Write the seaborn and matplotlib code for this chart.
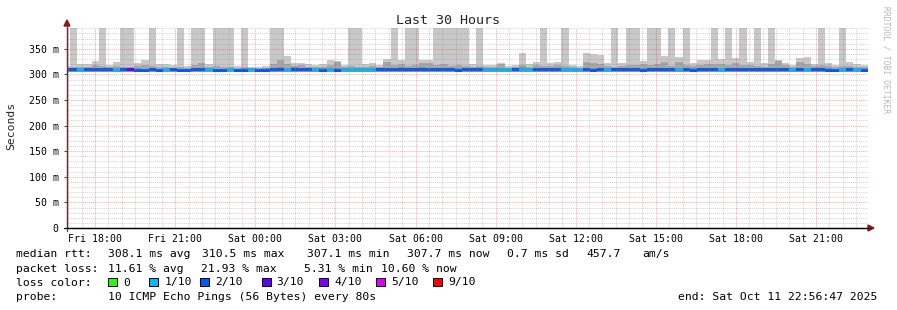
import numpy as np
import pandas as pd
import matplotlib
matplotlib.use("Agg")
import matplotlib.pyplot as plt
import matplotlib.dates as mdates
from matplotlib.patches import Rectangle
from matplotlib.ticker import FixedLocator
import seaborn as sns

sns.set_theme(style="white")
plt.rcParams["font.family"] = ["DejaVu Sans Mono", "DejaVu Sans"]

# ---------------- data ----------------
T = 420  # off-scale (clipped) maximum
smoke_top = [316, T, 320, 321, 327, T, 318, 324, T, T,
             322, 328, T, 320, 320, 318, T, 316, T, T,
             320, T, T, T, 316, T, 315, 315, 316, T,
             T, 336, 322, 322, 320, 318, 320, 328, 327, 318,
             T, T, 320, 322, 318, 330, T, 328, T, T,
             328, 328, T, T, T, T, T, 320, T, 318,
             318, 322, 316, 318, 342, 320, 325, T, 322, 324,
             T, 318, 316, 342, 339, 338, 322, T, 322, T,
             T, 326, T, T, 336, T, 334, T, 322, 328,
             328, T, 330, T, 332, T, 324, T, 322, T,
             328, 323, 318, 332, 333, 320, T, 322, 318, T,
             324, 320, 318, 316]
inner_top = [313, 314, 314, 315, 318, 316, 314, 316, 315, 315,
             316, 318, 316, 314, 314, 313, 314, 313, 318, 322,
             315, 316, 315, 315, 313, 314, 313, 313, 313, 320,
             328, 320, 316, 318, 315, 314, 315, 318, 325, 314,
             316, 315, 314, 316, 314, 325, 318, 321, 316, 318,
             322, 322, 318, 320, 316, 318, 316, 314, 316, 314,
             314, 320, 313, 314, 318, 314, 318, 316, 316, 318,
             316, 314, 313, 325, 322, 320, 316, 315, 316, 318,
             318, 320, 318, 320, 324, 316, 324, 318, 316, 318,
             320, 320, 320, 318, 322, 318, 318, 316, 314, 320,
             327, 318, 314, 324, 320, 316, 318, 316, 314, 316,
             316, 314, 314, 313]
median = [309, 309, 309, 309, 309, 309, 309, 308.5, 309, 309,
          308.5, 307.5, 309, 307.5, 309, 309, 307.5, 307.5, 309, 309,
          309, 307.5, 307.5, 309, 307.5, 308, 309, 307.5, 308, 309,
          309.5, 309, 310, 309, 309, 309, 308, 309, 308, 309,
          309, 309, 309, 309, 309, 309, 309, 309.5, 309, 309,
          309.5, 309, 309, 309, 309, 308, 309, 309, 309, 309,
          309, 309, 309, 309, 309.5, 309, 309, 309, 309, 309,
          309, 309, 309, 309, 308.5, 309, 309, 309, 309, 309,
          309, 308.5, 309, 309, 309, 309, 309, 309, 308.5, 309,
          309, 309, 309, 309, 309, 309, 309, 309, 309, 309,
          309, 309, 309, 309, 309, 309, 309, 308, 307.5, 309,
          309, 309, 308, 309]
loss = [2, 2, 1, 2, 2, 2, 2, 1, 2, 3,
        2, 2, 2, 2, 1, 2, 2, 2, 2, 2,
        1, 2, 2, 1, 2, 2, 1, 2, 2, 2,
        2, 1, 2, 2, 2, 1, 2, 1, 2, 1,
        1, 1, 1, 1, 2, 2, 2, 2, 2, 2,
        2, 2, 2, 2, 2, 2, 2, 2, 2, 1,
        1, 1, 1, 2, 1, 1, 2, 2, 2, 2,
        1, 1, 1, 2, 2, 2, 1, 2, 2, 2,
        2, 2, 2, 2, 2, 2, 1, 2, 2, 2,
        2, 2, 1, 2, 2, 2, 2, 2, 2, 2,
        2, 2, 1, 2, 1, 2, 2, 2, 2, 1,
        2, 1, 2, 2]
smoke_low = 305

loss_colors = {0: "#26ff00", 1: "#00b8ff", 2: "#0059ff", 3: "#5e00ff",
               4: "#7e00ff", 5: "#dd00ff", 9: "#ff0000"}
loss_labels = ["0", "1/10", "2/10", "3/10", "4/10", "5/10", "9/10"]
loss_keys = [0, 1, 2, 3, 4, 5, 9]

y_ticks = [0, 50, 100, 150, 200, 250, 300, 350]
y_tick_labels = ["0", "50 m", "100 m", "150 m", "200 m", "250 m", "300 m", "350 m"]

start = pd.Timestamp("2025-10-10 16:56:47")
end = pd.Timestamp("2025-10-11 22:56:47")
bin_start = pd.date_range("2025-10-10 16:48:00", periods=len(smoke_top), freq="16min")
step_days = 16 / 1440.0

# ---------------- figure ----------------
W, H = 897, 310
fig = plt.figure(figsize=(W / 100, H / 100), dpi=100, facecolor="white")
ax = fig.add_axes([67 / W, 82 / H, 801 / W, 200 / H])
ax.set_facecolor("white")

x = mdates.date2num(bin_start.to_pydatetime())
top = np.array(smoke_top, float)
inn = np.array(inner_top, float)
med = np.array(median, float)

ax.bar(x, top - smoke_low, bottom=smoke_low, width=step_days, align="edge",
       color="#c8c8c8", linewidth=0, zorder=1)
ax.bar(x, inn - smoke_low, bottom=smoke_low, width=step_days, align="edge",
       color="#a6a6a6", linewidth=0, zorder=1.1)
ax.bar(x, np.minimum(inn, med + 4) - smoke_low, bottom=smoke_low, width=step_days,
       align="edge", color="#8e8e8e", linewidth=0, zorder=1.2)
ax.bar(x, np.full_like(med, 6.0), bottom=med - 3, width=step_days, align="edge",
       color=[loss_colors[l] for l in loss], linewidth=0, zorder=1.5)

ax.set_xlim(mdates.date2num(start.to_pydatetime()), mdates.date2num(end.to_pydatetime()))
ax.set_ylim(0, 390.6)

# grids
for v in np.arange(10, 391, 10):
    if v % 50:
        ax.axhline(v, color="#808080", alpha=0.35, lw=0.7, ls=(0, (1, 1)), zorder=3)
for v in range(50, 391, 50):
    ax.axhline(v, color="#ff0000", alpha=0.35, lw=0.7, ls=(0, (1, 1)), zorder=3)
t = pd.Timestamp("2025-10-10 17:00:00")
while t < end:
    major = (t.hour % 3 == 0 and t.minute == 0)
    ax.axvline(mdates.date2num(t.to_pydatetime()), color="#ff0000" if major else "#808080",
               alpha=0.35, lw=0.7, ls=(0, (1, 1)), zorder=3)
    t += pd.Timedelta(minutes=30)

# ticks
ax.yaxis.set_major_locator(FixedLocator(y_ticks))
ax.set_yticklabels(y_tick_labels)
ax.tick_params(axis="y", length=2.5, width=0.7, color="#404040", pad=3.5,
               labelsize=7.1, labelcolor="#000000", left=True)
ax.xaxis.set_major_locator(mdates.HourLocator(byhour=range(0, 24, 3)))
ax.xaxis.set_major_formatter(mdates.DateFormatter("%a %H:%M"))
ax.tick_params(axis="x", length=0, pad=4.5, labelsize=7.1, labelcolor="#000000")

for s in ["top", "right"]:
    ax.spines[s].set_visible(False)
ax.spines["left"].set_color("#6a3030")
ax.spines["left"].set_linewidth(0.9)
ax.spines["bottom"].set_color("#000000")
ax.spines["bottom"].set_linewidth(0.9)
ax.spines["left"].set_zorder(4)
ax.spines["bottom"].set_zorder(4)

# axis extensions and arrows
fig.add_artist(plt.Line2D([67 / W, 67 / W], [1 - 231 / H, 1 - 24 / H], color="#6a3030", lw=0.9))
fig.add_artist(plt.Line2D([64 / W, 870 / W], [1 - 228 / H, 1 - 228 / H], color="#000000", lw=0.9))
fig.add_artist(plt.Polygon([[64 / W, 1 - 26 / H], [70 / W, 1 - 26 / H], [67 / W, 1 - 20 / H]],
                           closed=True, color="#8b1a1a", transform=fig.transFigure))
fig.add_artist(plt.Polygon([[868 / W, 1 - 225 / H], [868 / W, 1 - 231 / H], [874 / W, 1 - 228 / H]],
                           closed=True, color="#8b1a1a", transform=fig.transFigure))

# titles
fig.text(448 / W, 1 - 24 / H, "Last 30 Hours", ha="center", va="baseline", fontsize=9.6)
fig.text(11 / W, 1 - 126 / H, "Seconds", ha="center", va="center", rotation=90, fontsize=8.2)
fig.text(886 / W, 1 - 60 / H, "RRDTOOL / TOBI OETIKER", ha="center", va="center",
         rotation=270, fontsize=5.8, color="#b8b8b8")

fs = 8.2
def ftxt(xp, yp, s):
    fig.text(xp / W, 1 - yp / H, s, ha="left", va="baseline", fontsize=fs, color="#000000")

y1, y2, y3, y4 = 257, 271.5, 285.5, 300
ftxt(16, y1, "median rtt:")
ftxt(107.7, y1, "308.1 ms avg")
ftxt(201.7, y1, "310.5 ms max")
ftxt(307.3, y1, "307.1 ms min")
ftxt(407.3, y1, "307.7 ms now")
ftxt(507.3, y1, "0.7 ms sd")
ftxt(586.7, y1, "457.7")
ftxt(642.7, y1, "am/s")

ftxt(16, y2, "packet loss:")
ftxt(107.7, y2, "11.61 % avg")
ftxt(200.7, y2, "21.93 % max")
ftxt(304, y2, "5.31 % min")
ftxt(381, y2, "10.60 % now")

ftxt(16, y3, "loss color:")
box_x = [108.3, 149.3, 200.0, 261.7, 319.3, 376.0, 433.3]
for bx, key, lab in zip(box_x, loss_keys, loss_labels):
    fig.add_artist(Rectangle((bx / W, 1 - 286 / H), 9 / W, 8 / H, transform=fig.transFigure,
                             facecolor=loss_colors[key], edgecolor="#000000", lw=0.7))
    ftxt(bx + 15, y3, lab)

ftxt(16, y4, "probe:")
ftxt(107.7, y4, "10 ICMP Echo Pings (56 Bytes) every 80s")
ftxt(678.3, y4, "end: Sat Oct 11 22:56:47 2025")

fig.savefig("out.png", dpi=100, facecolor="white")
